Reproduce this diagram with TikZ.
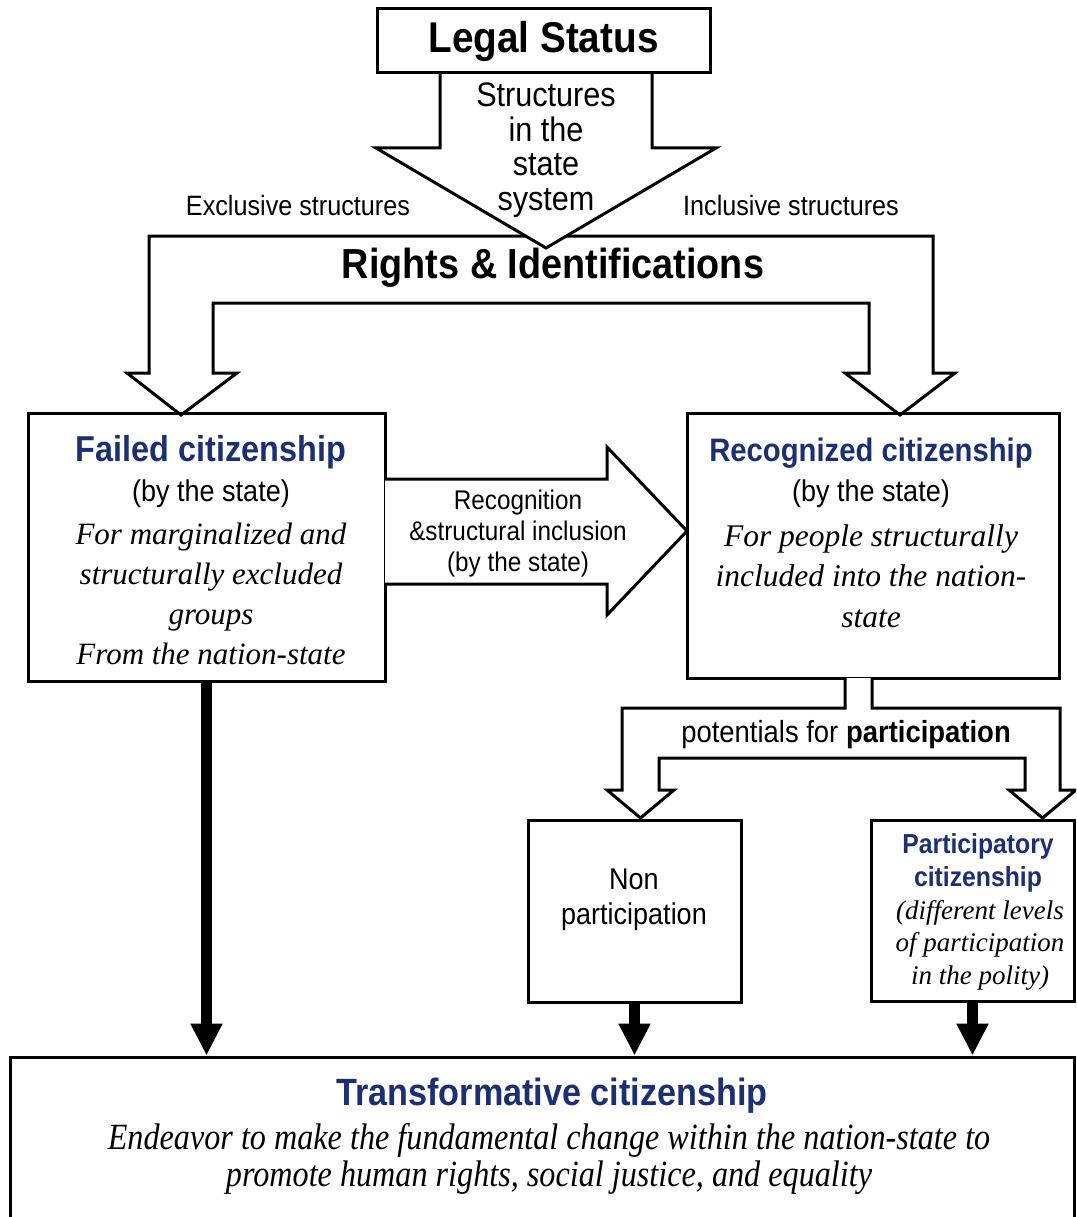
\documentclass[tikz,border=0pt]{standalone}
\usepackage{fontspec}
\setmainfont{Liberation Sans}[FakeStretch=0.9]
\newfontfamily\descfont{Liberation Serif}
\newfontfamily\condfont{Liberation Serif}[FakeStretch=0.87]
\usetikzlibrary{arrows.meta}
\definecolor{navy}{RGB}{27,47,118}
\newcommand{\fsz}[2]{\fontsize{#1}{#2}\selectfont}

\begin{document}
\begin{tikzpicture}
[x=1pt,y=-1pt,
 box/.style={draw,line width=3pt,inner sep=0pt},
 blockarrow/.style={draw,fill=white,line width=3pt,line join=miter},
 thickarrow/.style={line width=11pt,-{Triangle[width=30pt,length=32pt]}},
 headtext/.style={text=navy,font=\bfseries\fsz{35}{40}},
 subtext/.style={font=\fsz{30}{35},align=center},
 desctext/.style={font=\descfont\itshape\fsz{31}{40},align=center}]

  \path[use as bounding box,clip] (0,0) rectangle (1076,1217);

  % rights & identifications: one shaft splitting to both sides
  \draw[blockarrow] (181,415) -- (127,373) -- (149,373) -- (149,236) -- (933,236)
    -- (933,373) -- (955,373) -- (900,415) -- (845,373) -- (869,373) -- (869,303)
    -- (213,303) -- (213,373) -- (237,373) -- cycle;
  \node[font=\bfseries\fsz{42}{48}] (rights) at (553,268) {Rights \& Identifications};

  % structures in the state system
  \draw[blockarrow] (440,73) -- (440,148) -- (376,148) -- (546,248) -- (716,148)
    -- (652,148) -- (652,73);
  \node[box,minimum width=333pt,minimum height=64pt,font=\bfseries\fsz{43}{48}]
    (legal) at (543.5,41) {Legal Status};
  \node[font=\fsz{34}{34.5},align=center] (struct) at (546,150)
    {Structures\\in the\\state\\system};
  \node[font=\fsz{28}{32}] (excl) at (298,205) {Exclusive structures};
  \node[font=\fsz{28}{32}] (incl) at (791,205) {Inclusive structures};

  % failed citizenship
  \node[box,minimum width=357pt,minimum height=268pt] (failed) at (206.5,547) {};
  \node[headtext,font=\bfseries\fsz{36}{40}] (failedhead) at (211,452) {Failed citizenship};
  \node[subtext] (failedsub) at (211,494) {(by the state)};
  \node[desctext] (faileddesc) at (211,594)
    {For marginalized and\\structurally excluded\\groups\\From the nation-state};

  % recognized citizenship
  \node[box,minimum width=372pt,minimum height=265pt] (recog) at (873,545.5) {};
  \node[headtext,font=\bfseries\fsz{32.5}{40}] (recoghead) at (871,453) {Recognized citizenship};
  \node[subtext] (recogsub) at (871,494) {(by the state)};
  \node[desctext,font=\descfont\itshape\fsz{31.5}{40.5}] (recogdesc) at (871,576)
    {For people structurally\\included into the nation-\\state};

  % recognition arrow
  \draw[blockarrow] (385,479) -- (607,479) -- (607,447) -- (687,531) -- (607,615)
    -- (607,584) -- (385,584);
  \node[font=\fsz{27}{31},align=center] (recogn) at (518,534)
    {Recognition\\\&structural inclusion\\(by the state)};

  % potentials for participation
  \draw[blockarrow] (845,678) -- (845,708) -- (622,708) -- (622,790) -- (607,790)
    -- (640.5,818) -- (674,790) -- (659,790) -- (659,758) -- (1025,758) -- (1025,790)
    -- (1009,790) -- (1042.5,818) -- (1076,790) -- (1060,790) -- (1060,708)
    -- (872,708) -- (872,678);
  \node[font=\fsz{30.5}{34}] (potent) at (846,735) {potentials for \textbf{participation}};

  \node[box,minimum width=213pt,minimum height=182pt] (nonpart) at (634.5,911) {};
  \node[subtext] (nonparttxt) at (634,900) {Non\\participation};

  \node[box,minimum width=203pt,minimum height=181pt] (partic) at (972.5,910.5) {};
  \node[headtext,font=\bfseries\fsz{27.5}{33},align=center] (partichead) at (978,863)
    {Participatory\\citizenship};
  \node[desctext,font=\descfont\itshape\fsz{27}{32.5}] (particdesc) at (980,945)
    {(different levels\\of participation\\in the polity)};

  % transformative citizenship
  \node[box,minimum width=1064pt,minimum height=175pt] (trans) at (542,1144.5) {};
  \node[headtext,font=\bfseries\fsz{38}{42}] (transhead) at (552,1096)
    {Transformative citizenship};
  \node[font=\condfont\itshape\fsz{37}{37},align=center] (transdesc) at (549,1158.5)
    {Endeavor to make the fundamental change within the nation-state to\\
     promote human rights, social justice, and equality};

  \draw[thickarrow] (failed.south) -- (failed.south |- trans.north);
  \draw[thickarrow] (nonpart.south) -- (nonpart.south |- trans.north);
  \draw[thickarrow] (partic.south) -- (partic.south |- trans.north);
\end{tikzpicture}
\end{document}
